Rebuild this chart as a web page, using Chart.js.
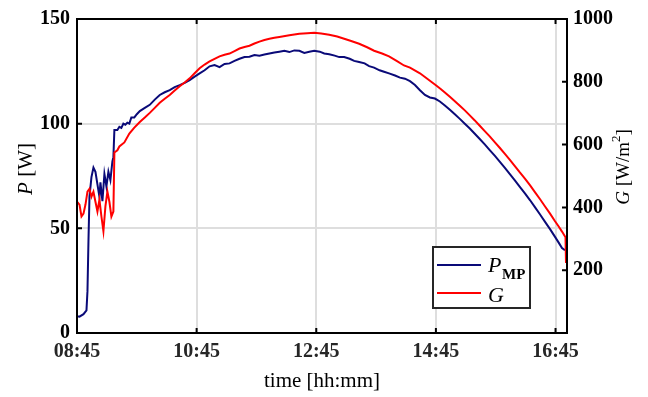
<!DOCTYPE html>
<html>
<head>
<meta charset="utf-8">
<script src="https://cdn.jsdelivr.net/npm/chart.js@4.4.1/dist/chart.umd.min.js"></script>
<style>
  html, body { margin: 0; padding: 0; background: #fff; }
</style>
</head>
<body>
<canvas id="myChart" width="648" height="397"></canvas>
<script>
// minutes after 08:45
const pTime = [0, 2.5, 6.5, 9.5, 10.5, 11.5, 12.5, 14.5, 16.5, 18.5, 20.5, 22.5, 23.5, 25.5, 27.5, 29.5, 31.5, 33.5, 35.5, 36.5,
  37.5, 40.5, 42.5, 44.5, 46.5, 48.5, 50.5, 52.5, 54.5, 57.5, 60, 63, 68, 73, 78, 83, 88, 93, 98, 103,
  108, 113, 118, 123, 128, 133, 138, 143, 148, 153, 158, 163, 168, 173, 178, 183, 188, 193, 198, 203,
  208, 213, 218, 223, 228, 233, 238, 243.5, 248, 253, 258.5, 263, 268, 273.5, 278, 283, 288.5, 293, 298, 303.5,
  308, 313, 319, 324, 329, 334, 339, 344, 349, 354, 359, 364, 369, 374, 379, 384, 389, 394, 399, 404,
  409, 414, 419, 424, 429, 434, 439, 444, 449.5, 454.5, 459.5, 464.5, 469.5, 474.5, 479.5, 483, 486.5, 489.5];
const pValues = [8.0, 7.8, 9.0, 10.8, 20, 44, 65, 74.5, 79, 77, 71, 65, 72, 63, 76, 70, 77, 73, 82, 84,
  97, 97, 98.5, 98, 100, 99.5, 100.5, 100, 103, 103, 104.5, 106, 107.5, 109, 111.5, 113.7, 115, 116, 117.5, 118.4,
  119.5, 120.8, 122.5, 124, 125.5, 127.4, 128, 127, 128.5, 128.8, 130, 131, 131.8, 132, 132.8, 132.5, 133, 133.5, 134, 134.4,
  134.8, 134.2, 135, 134.8, 133.8, 134.4, 134.8, 134.4, 133.5, 133.2, 132.5, 131.8, 131.8, 131, 130, 129.5, 128.8, 127.5, 126.8, 125.5,
  124.8, 124, 123, 122, 121.5, 120.3, 118.5, 116, 113.7, 112.5, 112, 110.6, 108.7, 106.7, 104.5, 102.3, 100, 97.7, 95.2, 92.7,
  90.1, 87.4, 84.7, 81.9, 79, 76, 73, 69.9, 66.6, 63.4, 60, 56.6, 53.1, 49.6, 45.9, 43.3, 40.6, 39.5];

const gTime = [0, 2.5, 4.5, 6.5, 8.5, 10.5, 12.5, 14.5, 16.5, 18.5, 20.5, 22.5, 24.5, 26.5, 28.5, 30.5, 32.5, 34.5, 36.5,
  37.5, 40.5, 42.5, 47.5, 52.5, 57.5, 63, 68, 73, 78, 83, 88, 93, 98, 103, 108, 113, 118, 123, 128,
  133, 138, 143, 148, 153, 158, 163, 168, 173, 178, 183, 188, 193, 198, 203, 213, 223, 231, 238, 245,
  253, 261, 268, 275, 283, 291, 298, 306, 313, 321, 328, 334, 344, 352, 360, 364.5, 369, 374, 379, 384,
  389, 394, 399, 404, 409, 414, 419, 424, 429, 434, 439, 444, 449.5, 454.5, 459.5, 464.5, 469.5, 474.5, 479.5, 483,
  486.5, 490, 490.5];
const gValues = [418, 409, 371, 380, 409, 450, 459, 434, 450, 418, 387, 425, 371, 324, 403, 450, 418, 371, 387,
  575, 582, 594, 607, 635, 654, 672, 686, 701, 717, 733, 746, 758, 772, 786, 798, 811, 827, 843, 855,
  865, 873, 881, 886, 890, 898, 906, 911, 915, 922, 928, 933, 937, 940, 943, 948, 953, 955, 956, 954,
  950, 944, 937, 930, 921, 910, 899, 890, 881, 866, 852, 845, 827, 808, 789, 778, 766, 752, 738, 724,
  709, 693, 677, 660, 643, 626, 608, 590, 571, 552, 532, 512, 491, 470, 448, 426, 403, 380, 356, 340,
  323, 305, 223];

const xTicks = [0, 120, 240, 360, 480];
const pTicks = [0, 50, 100, 150];
const gTicks = [200, 400, 600, 800, 1000];

const startMin = 8 * 60 + 45;
const serif = "'Liberation Serif', 'Times New Roman', serif";

function clock(v) {
  const m = startMin + v;
  const hh = Math.floor(m / 60), mm = Math.round(m % 60);
  return String(hh).padStart(2, '0') + ':' + String(mm).padStart(2, '0');
}

// box, inward ticks, axis titles and legend
const frame = {
  id: 'frame',
  afterDraw(chart) {
    const { ctx, chartArea: a, scales } = chart;
    const x = scales.x, yP = scales.yP, yG = scales.yG;
    ctx.save();
    ctx.strokeStyle = '#000';
    ctx.lineWidth = 2;
    ctx.strokeRect(a.left, a.top, a.right - a.left, a.bottom - a.top);

    ctx.beginPath();
    xTicks.forEach(v => {
      const px = x.getPixelForValue(v);
      ctx.moveTo(px, a.bottom); ctx.lineTo(px, a.bottom - 5);
      ctx.moveTo(px, a.top); ctx.lineTo(px, a.top + 5);
    });
    pTicks.forEach(v => {
      const py = yP.getPixelForValue(v);
      ctx.moveTo(a.left, py); ctx.lineTo(a.left + 5, py);
    });
    gTicks.forEach(v => {
      const py = yG.getPixelForValue(v);
      ctx.moveTo(a.right, py); ctx.lineTo(a.right - 5, py);
    });
    ctx.stroke();

    ctx.fillStyle = '#000';
    ctx.textBaseline = 'alphabetic';

    // x title
    ctx.font = '21px ' + serif;
    ctx.textAlign = 'center';
    ctx.fillText('time [hh:mm]', (a.left + a.right) / 2, 387);
    ctx.textAlign = 'left';

    // left title
    ctx.save();
    ctx.translate(32, 169);
    ctx.rotate(-Math.PI / 2);
    ctx.font = 'italic 21px ' + serif;
    const wP = ctx.measureText('P').width;
    ctx.font = '21px ' + serif;
    const wW = ctx.measureText(' [W]').width;
    let sx = -(wP + wW) / 2;
    ctx.font = 'italic 21px ' + serif;
    ctx.fillText('P', sx, 0);
    ctx.font = '21px ' + serif;
    ctx.fillText(' [W]', sx + wP, 0);
    ctx.restore();

    // right title
    ctx.save();
    ctx.translate(629, 167);
    ctx.rotate(-Math.PI / 2);
    const parts = [
      ['G', 'italic 19px ' + serif, 0],
      [' [W/m', '19px ' + serif, 0],
      ['2', '13px ' + serif, -9],
      [']', '19px ' + serif, 0]
    ];
    let total = 0;
    parts.forEach(p => { ctx.font = p[1]; total += ctx.measureText(p[0]).width; });
    sx = -total / 2;
    parts.forEach(p => {
      ctx.font = p[1];
      ctx.fillText(p[0], sx, p[2]);
      sx += ctx.measureText(p[0]).width;
    });
    ctx.restore();

    // legend
    ctx.fillStyle = '#fff';
    ctx.fillRect(433, 247, 97, 61);
    ctx.strokeStyle = '#262626';
    ctx.lineWidth = 2;
    ctx.strokeRect(433, 247, 97, 61);
    const ds = chart.data.datasets;
    ctx.strokeStyle = ds[1].borderColor;
    ctx.beginPath(); ctx.moveTo(437, 265); ctx.lineTo(481, 265); ctx.stroke();
    ctx.strokeStyle = ds[0].borderColor;
    ctx.beginPath(); ctx.moveTo(437, 293); ctx.lineTo(481, 293); ctx.stroke();
    ctx.fillStyle = '#000';
    ctx.font = 'italic 22px ' + serif;
    ctx.fillText('P', 488, 272);
    ctx.font = 'bold 15px ' + serif;
    ctx.fillText('MP', 502, 279);
    ctx.font = 'italic 22px ' + serif;
    ctx.fillText('G', 488, 302);
    ctx.restore();
  }
};

const ctx = document.getElementById('myChart').getContext('2d');
const myChart = new Chart(ctx, {
  type: 'line',
  data: {
    datasets: [{
      label: 'G',
      data: gTime.map((t, i) => ({ x: t, y: gValues[i] })),
      yAxisID: 'yG',
      borderColor: '#ff0000',
      borderWidth: 2,
      pointRadius: 0,
      tension: 0,
      order: 0
    }, {
      label: 'P_MP',
      data: pTime.map((t, i) => ({ x: t, y: pValues[i] })),
      yAxisID: 'yP',
      borderColor: '#0a0a78',
      borderWidth: 2,
      pointRadius: 0,
      tension: 0,
      order: 1
    }]
  },
  options: {
    responsive: false,
    animation: false,
    layout: { padding: { top: 15, left: 0, right: 0, bottom: 0 } },
    plugins: { legend: { display: false }, tooltip: { enabled: false } },
    scales: {
      x: {
        type: 'linear',
        min: 0,
        max: 491.5,
        afterFit(s) { s.height = 64; },
        afterBuildTicks(s) { s.ticks = xTicks.map(v => ({ value: v })); },
        ticks: {
          callback: v => clock(v),
          font: { family: serif, size: 20, weight: 'bold' },
          color: '#262626',
          padding: 7,
          maxRotation: 0,
          autoSkip: false
        },
        grid: { color: '#dedede', lineWidth: 2, drawTicks: false },
        border: { display: false }
      },
      yP: {
        type: 'linear',
        position: 'left',
        min: 0,
        max: 150,
        afterFit(s) { s.width = 77; },
        afterBuildTicks(s) { s.ticks = pTicks.map(v => ({ value: v })); },
        ticks: {
          callback: v => String(v),
          font: { family: serif, size: 20, weight: 'bold' },
          color: '#000',
          padding: 7
        },
        grid: { color: '#dedede', lineWidth: 2, drawTicks: false },
        border: { display: false }
      },
      yG: {
        type: 'linear',
        position: 'right',
        min: 0,
        max: 1000,
        afterFit(s) { s.width = 81; },
        afterBuildTicks(s) { s.ticks = gTicks.map(v => ({ value: v })); },
        ticks: {
          callback: v => String(v),
          font: { family: serif, size: 20, weight: 'bold' },
          color: '#000',
          padding: 6
        },
        grid: { display: false, drawTicks: false },
        border: { display: false }
      }
    }
  },
  plugins: [frame]
});
</script>
</body>
</html>
